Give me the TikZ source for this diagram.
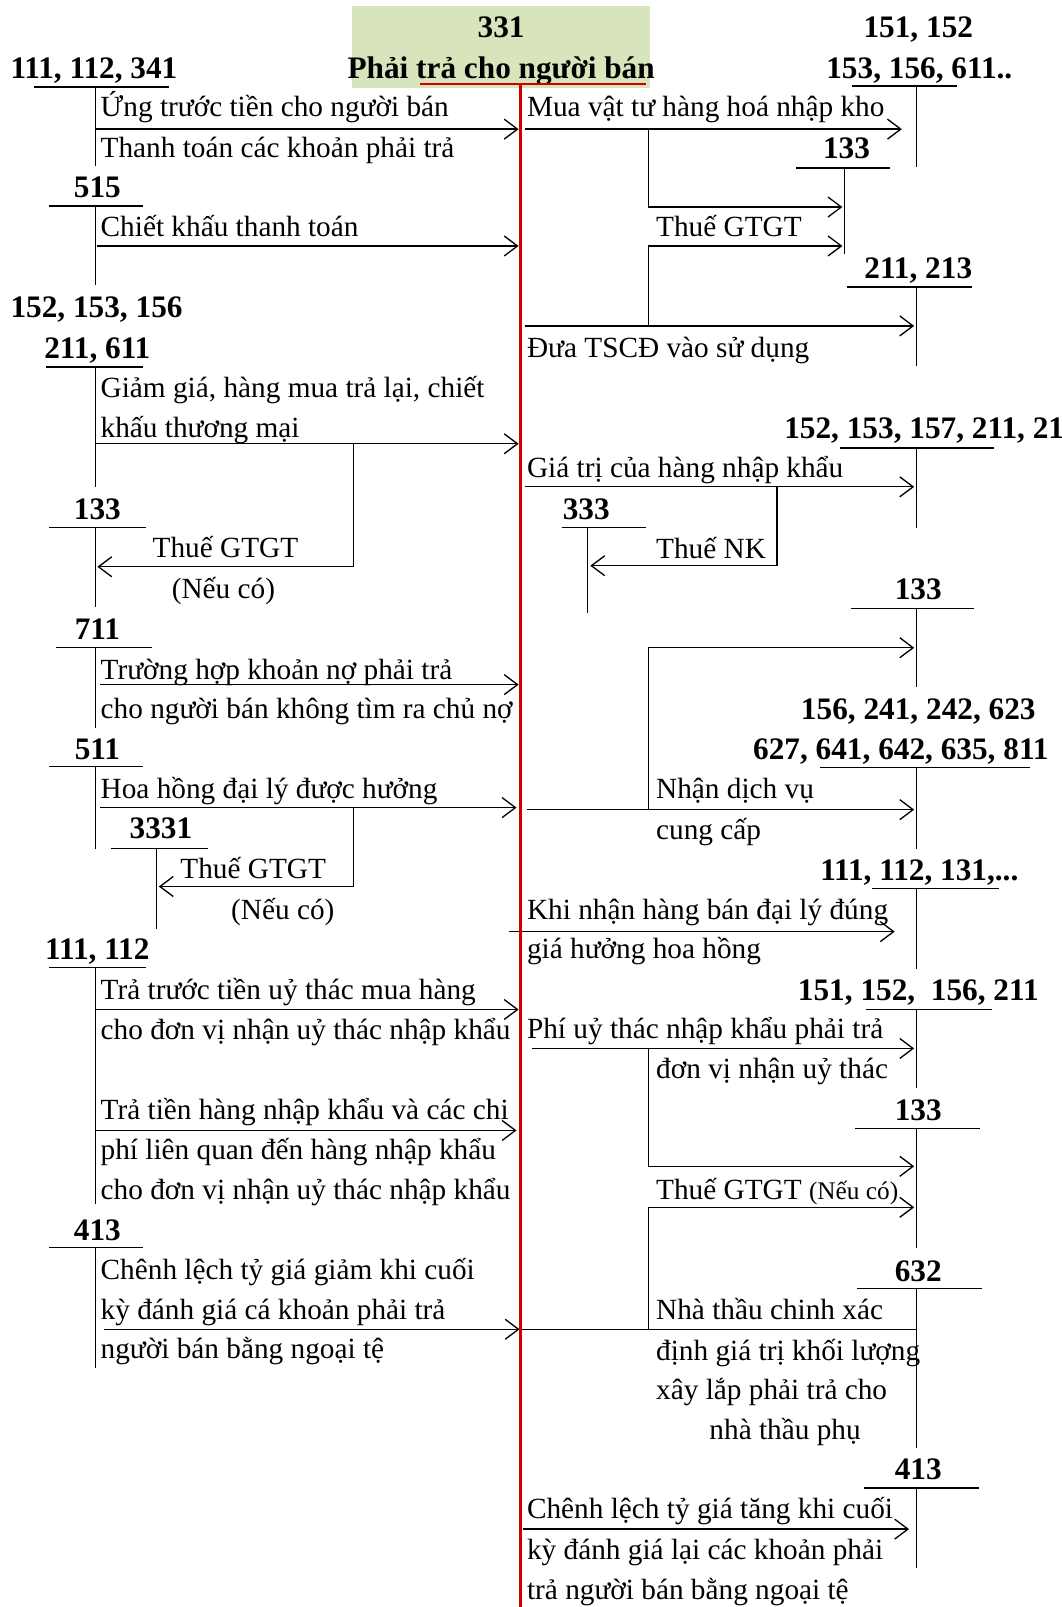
\documentclass[tikz,border=0pt]{standalone}
\usepackage{fontspec}
\setmainfont{Liberation Serif}
\usetikzlibrary{arrows.meta}
\definecolor{hdrgreen}{RGB}{216,228,188}
\definecolor{mainred}{RGB}{204,0,0}
\newcommand\Tacc[6]{%
  \coordinate (#1-l) at (#2,#4);
  \coordinate (#1-r) at (#3,#4);
  \coordinate (#1-t) at (#5,#4);
  \coordinate (#1-b) at (#5,#6);
  \draw[tline] (#1-l) -- (#1-r);
  \draw[tline] (#1-t) -- (#1-b);}
\begin{document}
\begin{tikzpicture}[x=0.77pt,y=-0.77pt,
  tline/.style={line width=1pt},
  arr/.style={line width=1pt,-{Straight Barb[length=10pt,width=15pt,line width=1pt]}},
  txt/.style={font=\fontsize{22}{26}\selectfont,inner sep=0pt,anchor=base west},
  txtc/.style={font=\fontsize{22}{26}\selectfont,inner sep=0pt,anchor=base},
  lab/.style={font=\fontsize{23.5}{28}\selectfont\bfseries,inner sep=0pt,anchor=base},
  labw/.style={font=\fontsize{23.5}{28}\selectfont\bfseries,inner sep=0pt,anchor=base west}]
\useasboundingbox (0,0) rectangle (1036,1568);
\clip (0,0) rectangle (1036,1568);
% header
\node[fill=hdrgreen,minimum width=291*0.77pt,minimum height=80*0.77pt,inner sep=0pt] (hdr) at (488.5,46) {};
\node[lab] (h331) at (489,37) {331};
\node[lab] (hname) at (489,77) {Phải trả cho người bán};

% ---------- left T-accounts ----------
\Tacc{A111}{33}{165}{85}{93}{162}
\Tacc{A515}{48}{140}{201}{93}{278}
\Tacc{A211}{45}{140}{358}{93}{475}
\Tacc{A133}{48}{142}{515}{93}{592}
\Tacc{A711}{55}{148}{632}{93}{710}
\Tacc{A511}{48}{140}{748}{93}{828}
\Tacc{A3331}{108}{203}{828}{153}{906}
\Tacc{A1112}{48}{142}{944}{93}{1175}
\Tacc{A413}{48}{140}{1217}{93}{1335}
\node[labw] (lA111) at (10,77) {111, 112, 341};
\node[lab] (lA515) at (95,193) {515};
\node[labw] (lA152) at (10,310) {152, 153, 156};
\node[lab] (lA211) at (95,350) {211, 611};
\node[lab] (lA133) at (95,507) {133};
\node[lab] (lA711) at (95,624) {711};
\node[lab] (lA511) at (95,741) {511};
\node[lab] (lA3331) at (157,818) {3331};
\node[lab] (lA1112) at (95,936) {111, 112};
\node[lab] (lA413) at (95,1210) {413};

% ---------- right T-accounts ----------
\Tacc{B151}{831}{934}{84}{894}{163}
\Tacc{B133a}{777}{868}{164}{824}{248}
\Tacc{B211}{826}{948}{280}{894}{357}
\Tacc{B152}{820}{970}{437}{894}{515}
\Tacc{B333}{548}{630}{515}{573}{598}
\Tacc{B133b}{830}{950}{594}{894}{670}
\Tacc{B156}{800}{1005}{749}{894}{828}
\Tacc{B111}{851}{975}{867}{894}{945}
\Tacc{B151b}{845}{968}{985}{894}{1062}
\Tacc{B133c}{834}{956}{1101}{894}{1218}
\Tacc{B632}{836}{958}{1257}{894}{1413}
\Tacc{B413}{843}{955}{1452}{894}{1530}
\node[lab] (lB151a) at (896,37) {151, 152};
\node[lab] (lB151b) at (897,77) {153, 156, 611..};
\node[lab] (lB133a) at (826,155) {133};
\node[lab] (lB211) at (896,272) {211, 213};
\node[labw] (lB152) at (765,428) {152, 153, 157, 211, 213};
\node[lab] (lB333) at (572,507) {333};
\node[lab] (lB133b) at (896,585) {133};
\node[lab] (lB156a) at (896,702) {156, 241, 242, 623};
\node[lab] (lB156b) at (879,741) {627, 641, 642, 635, 811};
\node[lab] (lB111) at (897,859) {111, 112, 131,...};
\node[lab] (lB151c) at (896,976) {151, 152,\ \ 156, 211};
\node[lab] (lB133c) at (896,1093) {133};
\node[lab] (lB632) at (896,1250) {632};
\node[lab] (lB413) at (896,1444) {413};

% ---------- left texts ----------
\node[txt] (t1) at (98,114) {Ứng trước tiền cho người bán};
\node[txt] (t2) at (98,154) {Thanh toán các khoản phải trả};
\node[txt] (t3) at (98,231) {Chiết khấu thanh toán};
\node[txt] (t4) at (98,388) {Giảm giá, hàng mua trả lại, chiết};
\node[txt] (t5) at (98,427) {khấu thương mại};
\node[txtc] (t6) at (220,544) {Thuế GTGT};
\node[txtc] (t7) at (218,584) {(Nếu có)};
\node[txt] (t8) at (98,663) {Trường hợp khoản nợ phải trả};
\node[txt] (t9) at (98,701) {cho người bán không tìm ra chủ nợ};
\node[txt] (t10) at (98,779) {Hoa hồng đại lý được hưởng};
\node[txtc] (t11) at (247,857) {Thuế GTGT};
\node[txtc] (t12) at (276,897) {(Nếu có)};
\node[txt] (t13) at (98,975) {Trả trước tiền uỷ thác mua hàng};
\node[txt] (t14) at (98,1014) {cho đơn vị nhận uỷ thác nhập khẩu};
\node[txt] (t15) at (98,1092) {Trả tiền hàng nhập khẩu và các chi};
\node[txt] (t16) at (98,1131) {phí liên quan đến hàng nhập khẩu};
\node[txt] (t17) at (98,1170) {cho đơn vị nhận uỷ thác nhập khẩu};
\node[txt] (t18) at (98,1248) {Chênh lệch tỷ giá giảm khi cuối};
\node[txt] (t19) at (98,1287) {kỳ đánh giá cá khoản phải trả};
\node[txt] (t20) at (98,1326) {người bán bằng ngoại tệ};

% ---------- right texts ----------
\node[txt] (r1) at (514,114) {Mua vật tư hàng hoá nhập kho};
\node[txt] (r2) at (640,231) {Thuế GTGT};
\node[txt] (r3) at (514,349) {Đưa TSCĐ vào sử dụng};
\node[txt] (r4) at (514,466) {Giá trị của hàng nhập khẩu};
\node[txt] (r5) at (640,545) {Thuế NK};
\node[txt] (r6) at (640,779) {Nhận dịch vụ};
\node[txt] (r7) at (640,819) {cung cấp};
\node[txt] (r8) at (514,897) {Khi nhận hàng bán đại lý đúng};
\node[txt] (r9) at (514,935) {giá hưởng hoa hồng};
\node[txt] (r10) at (514,1013) {Phí uỷ thác nhập khẩu phải trả};
\node[txt] (r11) at (640,1052) {đơn vị nhận uỷ thác};
\node[txt] (r12) at (640,1170) {Thuế GTGT {\fontsize{19}{22}\selectfont(Nếu có)}};
\node[txt] (r13) at (640,1287) {Nhà thầu chinh xác};
\node[txt] (r14) at (640,1327) {định giá trị khối lượng};
\node[txt] (r15) at (640,1366) {xây lắp phải trả cho};
\node[txt] (r16) at (692,1405) {nhà thầu phụ};
\node[txt] (r17) at (514,1482) {Chênh lệch tỷ giá tăng khi cuối};
\node[txt] (r18) at (514,1522) {kỳ đánh giá lại các khoản phải};
\node[txt] (r19) at (514,1561) {trả người bán bằng ngoại tệ};

% ---------- left arrows ----------
\coordinate (a1s) at (93,126);  \coordinate (a1e) at (506,126);
\coordinate (a2s) at (95,240);  \coordinate (a2e) at (506,240);
\coordinate (a3s) at (93,433);  \coordinate (a3e) at (506,433);
\coordinate (a3b) at (345,433); \coordinate (a3c) at (345,553); \coordinate (a3d) at (95,553);
\coordinate (a4s) at (98,668);  \coordinate (a4e) at (506,668);
\coordinate (a5s) at (98,788);  \coordinate (a5e) at (504,788);
\coordinate (a5b) at (345,788); \coordinate (a5c) at (345,865); \coordinate (a5d) at (155,865);
\coordinate (a6s) at (93,985);  \coordinate (a6e) at (506,985);
\coordinate (a7s) at (93,1103); \coordinate (a7e) at (504,1103);
\coordinate (a8s) at (101,1297); \coordinate (a8e) at (507,1297);
\draw[arr] (a1s) -- (a1e);
\draw[arr] (a2s) -- (a2e);
\draw[arr] (a3s) -- (a3e);
\draw[arr] (a3b) -- (a3c) -- (a3d);
\draw[arr] (a4s) -- (a4e);
\draw[arr] (a5s) -- (a5e);
\draw[arr] (a5b) -- (a5c) -- (a5d);
\draw[arr] (a6s) -- (a6e);
\draw[arr] (a7s) -- (a7e);
\draw[arr] (a8s) -- (a8e);

% ---------- right arrows ----------
\coordinate (b1s) at (512,126); \coordinate (b1e) at (880,126);
\coordinate (b1b) at (633,126); \coordinate (b1c) at (633,202); \coordinate (b1d) at (822,202);
\coordinate (b2a) at (633,318); \coordinate (b2b) at (633,240); \coordinate (b2c) at (822,240);
\coordinate (b3s) at (512,318); \coordinate (b3e) at (892,318);
\coordinate (b4s) at (512,475); \coordinate (b4e) at (892,475);
\coordinate (b4b) at (758,475); \coordinate (b4c) at (758,552); \coordinate (b4d) at (576,552);
\coordinate (b5a) at (633,790); \coordinate (b5b) at (633,632); \coordinate (b5c) at (892,632);
\coordinate (b6s) at (514,790); \coordinate (b6e) at (892,790);
\coordinate (b7s) at (497,909); \coordinate (b7e) at (873,909);
\coordinate (b8s) at (519,1023); \coordinate (b8e) at (892,1023);
\coordinate (b8b) at (633,1023); \coordinate (b8c) at (633,1138); \coordinate (b8d) at (892,1138);
\coordinate (b9a) at (633,1297); \coordinate (b9b) at (633,1178); \coordinate (b9c) at (892,1178);
\coordinate (b10s) at (508,1297); \coordinate (b10e) at (894,1297);
\coordinate (b11s) at (510,1492); \coordinate (b11e) at (887,1492);
\draw[arr] (b1s) -- (b1e);
\draw[arr] (b1b) -- (b1c) -- (b1d);
\draw[arr] (b2a) -- (b2b) -- (b2c);
\draw[arr] (b3s) -- (b3e);
\draw[arr] (b4s) -- (b4e);
\draw[arr] (b4b) -- (b4c) -- (b4d);
\draw[arr] (b5a) -- (b5b) -- (b5c);
\draw[arr] (b6s) -- (b6e);
\draw[arr] (b7s) -- (b7e);
\draw[arr] (b8s) -- (b8e);
\draw[arr] (b8b) -- (b8c) -- (b8d);
\draw[arr] (b9a) -- (b9b) -- (b9c);
\draw[tline] (b10s) -- (b10e);
\draw[arr] (b11s) -- (b11e);

% ---------- red account 331 ----------
\coordinate (redL) at (410,82); \coordinate (redR) at (630,82);
\coordinate (redT) at (508,82); \coordinate (redB) at (508,1568);
\draw[mainred,line width=2pt] (redL) -- (redR);
\draw[mainred,line width=2.6pt] (redT) -- (redB);
\end{tikzpicture}
\end{document}
